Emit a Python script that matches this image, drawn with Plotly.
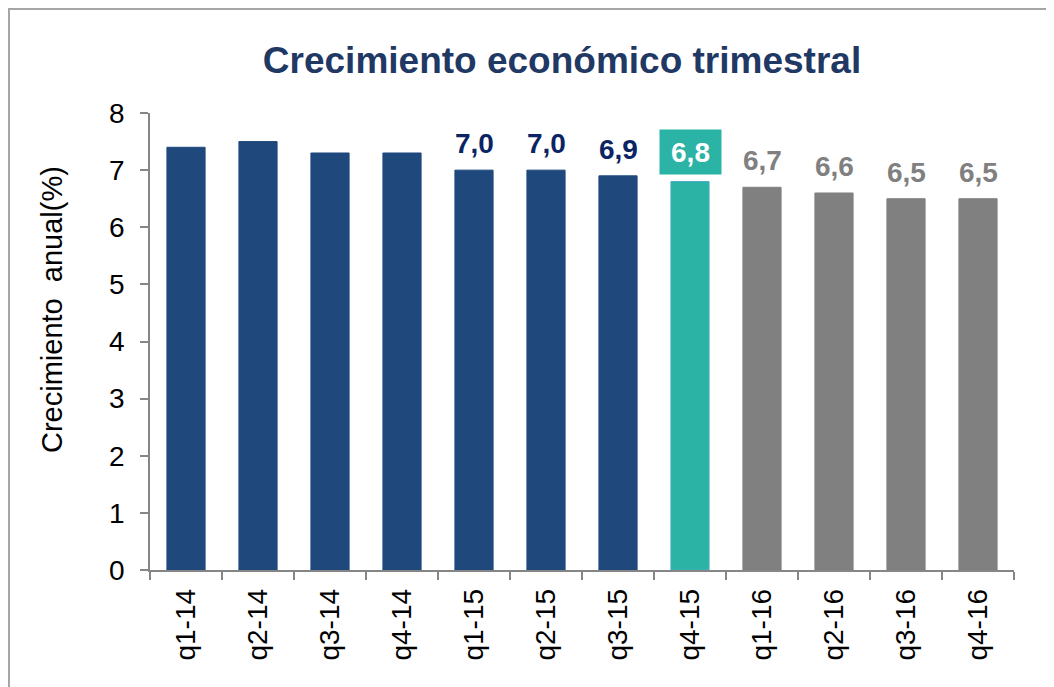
import plotly.graph_objects as go

categories = ["q1-14", "q2-14", "q3-14", "q4-14", "q1-15", "q2-15", "q3-15", "q4-15",
              "q1-16", "q2-16", "q3-16", "q4-16"]
values = [7.4, 7.5, 7.3, 7.3, 7.0, 7.0, 6.9, 6.8, 6.7, 6.6, 6.5, 6.5]
label_texts = ["", "", "", "", "7,0", "7,0", "6,9", "6,8", "6,7", "6,6", "6,5", "6,5"]
groups = ["hist"] * 7 + ["current"] + ["forecast"] * 4

NAVY = "#1F497D"
TEAL = "#2BB3A5"
GRAY = "#808080"
bar_colors = {"hist": NAVY, "current": TEAL, "forecast": GRAY}
line_colors = {"hist": NAVY, "current": "#4BACC6", "forecast": GRAY}
label_colors = {"hist": "#0B2463", "current": "white", "forecast": GRAY}

FONT = "Liberation Sans, Arial, sans-serif"
W, H = 1054, 687
L, R, T, B = 142, 48, 105, 125
pw, ph = W - L - R, H - T - B

fig = go.Figure()
fig.add_trace(go.Bar(
    x=categories, y=values,
    marker=dict(color=[bar_colors[g] for g in groups],
                line=dict(color=[line_colors[g] for g in groups], width=1)),
    hoverinfo="x+y",
))

for cat, v, txt, g in zip(categories, values, label_texts, groups):
    if not txt:
        continue
    ann = dict(x=cat, y=v, xref="x", yref="y", text="<b>%s</b>" % txt,
               showarrow=False, yanchor="bottom",
               font=dict(family=FONT, size=28, color=label_colors[g]))
    if g == "current":
        ann.update(bgcolor=TEAL, borderpad=3, width=55, height=38, yshift=7)
    else:
        ann.update(yshift=9)
    fig.add_annotation(**ann)

# y-axis title (placed like the original, above centre)
fig.add_annotation(text="Crecimiento  anual(%)", textangle=-90,
                   xref="paper", yref="paper",
                   x=(44 - L) / pw, y=(H - B - 302) / ph,
                   xanchor="center", yanchor="middle", showarrow=False,
                   font=dict(family=FONT, size=29, color="black"))

# outer frame (top and left edges visible)
fx = (0.5 - L) / pw
fy = (H - B - 0.5) / ph
fig.add_shape(type="path", xref="paper", yref="paper",
              path=f"M {fx} -1 L {fx} {fy} L 1.5 {fy}",
              line=dict(color="#A6A6A6", width=3))

fig.update_layout(
    width=W, height=H,
    margin=dict(l=L, r=R, t=T, b=B),
    paper_bgcolor="white", plot_bgcolor="white",
    showlegend=False,
    bargap=0.47,
    title=dict(text="<b>Crecimiento económico trimestral</b>",
               x=554 / W, xanchor="center", y=1 - 52 / H, yanchor="middle",
               font=dict(family=FONT, size=37, color="#1F3864")),
    font=dict(family=FONT, color="black"),
)
fig.update_xaxes(
    type="category", tickangle=-90, tickson="boundaries",
    ticks="outside", ticklen=8, tickcolor="#868686", tickwidth=1.5,
    ticklabelstandoff=6,
    showline=True, linecolor="#868686", linewidth=1.5,
    showgrid=False, tickfont=dict(family=FONT, size=28, color="black"),
)
fig.update_yaxes(
    range=[0, 8], dtick=1, tick0=0,
    ticks="outside", ticklen=8, tickcolor="#868686", tickwidth=1.5,
    ticklabelstandoff=10,
    showline=True, linecolor="#868686", linewidth=1.5,
    showgrid=False, zeroline=False,
    tickfont=dict(family=FONT, size=28, color="black"),
)

fig.write_html("out.html")
